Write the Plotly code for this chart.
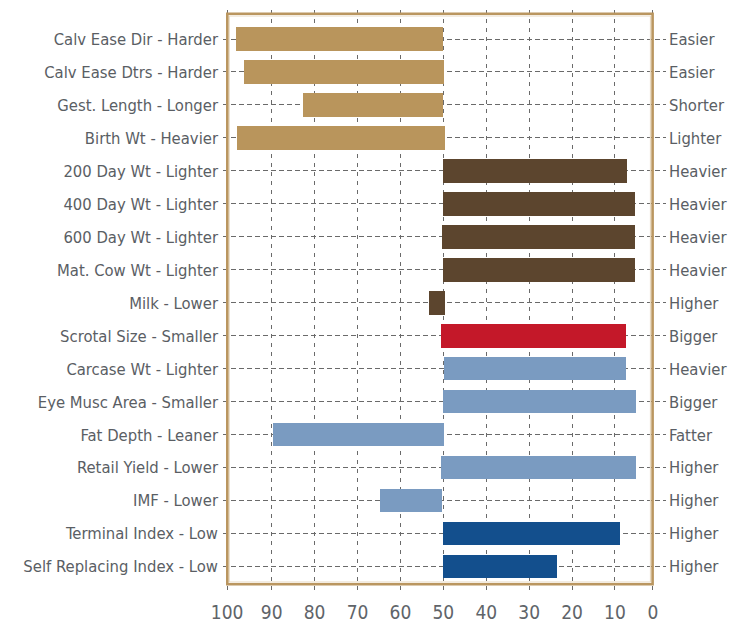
import plotly.graph_objects as go

# ---- data ----
left_labels = [
    "Calv Ease Dir - Harder", "Calv Ease Dtrs - Harder", "Gest. Length - Longer",
    "Birth Wt - Heavier", "200 Day Wt - Lighter", "400 Day Wt - Lighter",
    "600 Day Wt - Lighter", "Mat. Cow Wt - Lighter", "Milk - Lower",
    "Scrotal Size - Smaller", "Carcase Wt - Lighter", "Eye Musc Area - Smaller",
    "Fat Depth - Leaner", "Retail Yield - Lower", "IMF - Lower",
    "Terminal Index - Low", "Self Replacing Index - Low",
]
right_labels = [
    "Easier", "Easier", "Shorter", "Lighter", "Heavier", "Heavier", "Heavier",
    "Heavier", "Higher", "Bigger", "Heavier", "Bigger", "Fatter", "Higher",
    "Higher", "Higher", "Higher",
]
bar_start = [50.0, 49.8, 50.0, 49.7, 50.0, 50.0, 50.3, 50.0, 49.6,
             50.5, 49.8, 50.0, 49.8, 50.6, 50.2, 50.0, 50.0]
bar_end = [98.4, 96.4, 82.7, 98.1, 7.2, 5.3, 5.3, 5.3, 53.3,
           7.4, 7.4, 5.2, 89.7, 5.2, 64.7, 8.8, 23.5]
groups = ["calving"] * 4 + ["growth"] * 5 + ["fertility"] + ["carcase"] * 5 + ["index"] * 2
group_colors = {
    "calving": "#B9955C",
    "growth": "#5C452E",
    "fertility": "#C41829",
    "carcase": "#7A9BC1",
    "index": "#134F8D",
}
tick_labels = ["100", "90", "80", "70", "60", "50", "40", "30", "20", "10", "0"]
tick_positions = [100.4, 90, 80, 70, 60, 50, 40, 30, 20, 10, 1.15]

# ---- layout geometry ----
W, H = 731, 629
L, R, T, B = 223, 666, 10, 593
n = len(left_labels)
y_range = [16.80, -0.88]
x_range = [101.35, -1.89]

FONT = "DejaVu Sans Condensed, Liberation Sans Narrow, Arial Narrow, sans-serif"
TEXT = "#5a5e64"
GRID = "#6a6a6a"

lengths = [e - s for s, e in zip(bar_start, bar_end)]
colors = [group_colors[g] for g in groups]

fig = go.Figure()
fig.add_trace(go.Bar(
    y=left_labels, x=lengths, base=bar_start, orientation="h",
    marker=dict(color=colors, line=dict(width=0)), width=0.71,
    hoverinfo="skip", showlegend=False,
))
fig.add_trace(go.Scatter(
    x=[50] * n, y=list(range(n)), yaxis="y2", mode="markers",
    marker=dict(opacity=0), hoverinfo="skip", showlegend=False,
))

def px_x(p):
    return (p - L) / (R - L)

def px_y(p):
    return (B - p) / (B - T)

fig.update_layout(
    width=W, height=H,
    margin=dict(l=L, r=W - R, t=T, b=H - B, pad=0, autoexpand=False),
    paper_bgcolor="white", plot_bgcolor="white",
    font=dict(family=FONT, color=TEXT, size=16.5),
    bargap=0,
    xaxis=dict(
        range=x_range, tickvals=tick_positions, ticktext=tick_labels,
        showgrid=True, gridcolor=GRID, gridwidth=1, griddash="4px,5px",
        zeroline=False, showline=False, ticks="", automargin=False,
        tickfont=dict(size=19, color="#606469", family=FONT),
        ticklabelstandoff=6, fixedrange=True,
    ),
    yaxis=dict(
        type="category", categoryorder="array", categoryarray=left_labels,
        range=y_range, showgrid=True, gridcolor=GRID, gridwidth=1,
        griddash="5px,3px", zeroline=False, showline=False, ticks="",
        automargin=False,
        tickfont=dict(size=16.5, color=TEXT, family=FONT),
        ticklabelstandoff=4, fixedrange=True,
    ),
    yaxis2=dict(
        overlaying="y", side="right", range=y_range,
        tickvals=list(range(n)), ticktext=right_labels,
        showgrid=False, zeroline=False, showline=False, ticks="",
        automargin=False,
        tickfont=dict(size=16.5, color=TEXT, family=FONT),
        ticklabelstandoff=2, fixedrange=True,
    ),
    shapes=[
        dict(type="rect", xref="paper", yref="paper", layer="above",
             x0=px_x(229.2), x1=px_x(650.5), y0=px_y(582.0), y1=px_y(16.0),
             line=dict(color="#E8DAC3", width=1.2)),
        dict(type="rect", xref="paper", yref="paper", layer="above",
             x0=px_x(227.3), x1=px_x(652.6), y0=px_y(584.3), y1=px_y(13.8),
             line=dict(color="#BA9660", width=2.6)),
    ],
)

fig.write_html(
    "out.html",
    config={"displayModeBar": False},
    post_script="document.body.style.margin='0';document.body.style.padding='0';",
)
